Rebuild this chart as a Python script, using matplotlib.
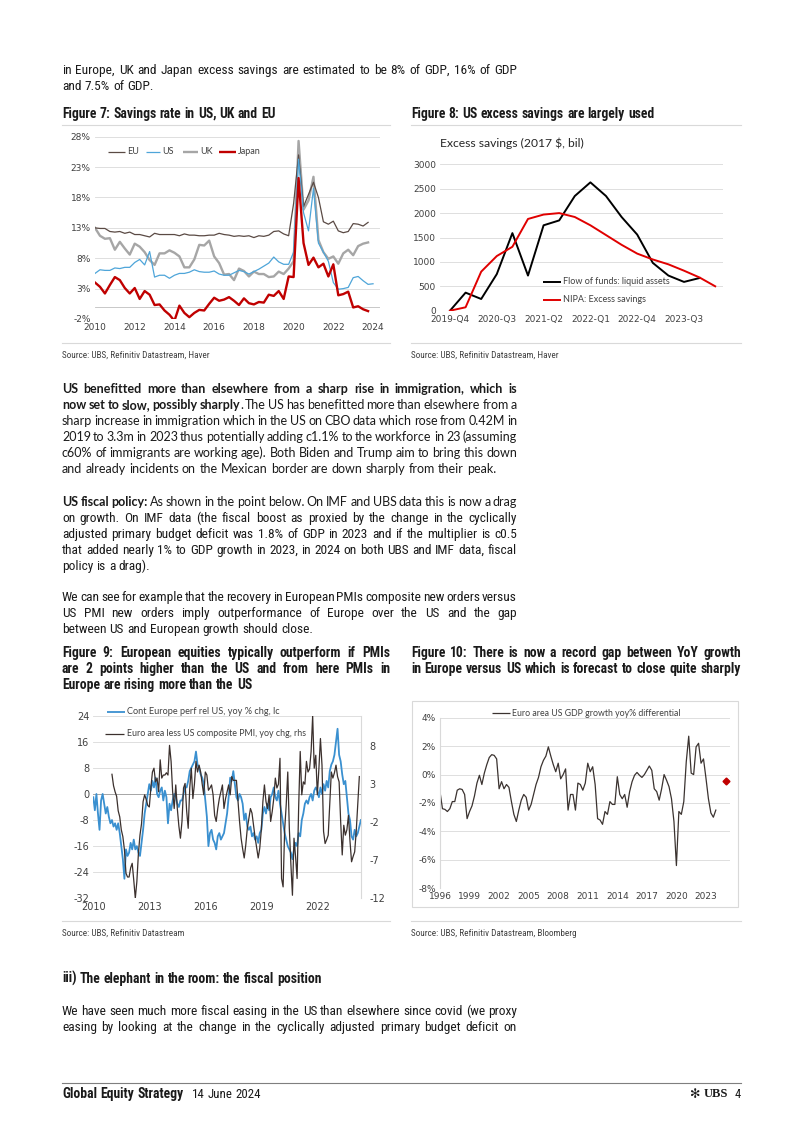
"""Page recreation: UBS Global Equity Strategy p.4 (Figures 7-10)."""
import matplotlib
matplotlib.use("Agg")
import matplotlib.pyplot as plt
import numpy as np
from matplotlib.lines import Line2D
from matplotlib.patches import Rectangle

plt.rcParams["axes.unicode_minus"] = False

W, H = 802, 1134
BODY = ["Lato", "DejaVu Sans"]
COND = ["Liberation Sans Narrow", "Roboto Condensed", "Lato", "DejaVu Sans"]
INK = "#1a1a1a"
TICK = "#404040"
GRID = "#d9d9d9"

# ---------------- Figure 7: savings rate (quarterly, from 2010Q1)
f7_eu = [13.0, 12.9, 12.9, 12.4, 12.3, 12.4, 12.1, 12.3, 11.9, 11.9, 11.7, 11.5,
         12.1, 11.9, 11.9, 11.9, 11.9, 11.7, 12.0, 11.8, 11.8, 11.7, 11.7, 11.8,
         11.8, 12.1, 11.9, 11.8, 11.6, 11.7, 11.6, 11.7, 11.4, 11.7, 11.6, 11.8,
         12.4, 12.5, 12.0, 11.7, 17.0, 25.0, 16.5, 18.5, 20.5, 18.0, 14.0, 13.6,
         14.1, 12.5, 12.2, 12.4, 13.7, 13.6, 13.3, 13.9]
f7_us = [5.5, 6.1, 6.0, 6.0, 6.4, 6.3, 6.5, 6.5, 7.3, 7.8, 6.9, 9.1,
         4.9, 5.2, 5.2, 4.7, 5.2, 5.5, 5.5, 5.7, 6.1, 5.8, 5.7, 5.7,
         5.9, 5.4, 5.2, 5.2, 5.6, 6.0, 5.8, 5.4, 5.8, 6.2, 6.7, 7.2,
         8.2, 7.4, 7.0, 7.0, 9.0, 24.3, 15.5, 12.5, 19.5, 10.5, 9.0, 7.5,
         4.0, 2.9, 3.0, 3.2, 4.8, 5.0, 4.3, 3.7, 3.8]
f7_uk = [13.0, 11.7, 11.2, 11.3, 9.4, 10.7, 9.6, 8.6, 10.4, 9.9, 9.0, 7.7,
         6.9, 8.8, 8.8, 9.3, 8.9, 8.3, 6.5, 6.5, 7.8, 10.2, 10.1, 10.9,
         8.3, 7.2, 5.3, 5.4, 4.4, 6.3, 5.9, 5.0, 5.8, 5.4, 5.4, 4.9,
         5.0, 5.8, 5.4, 6.3, 7.5, 27.3, 16.0, 17.5, 21.4, 11.0, 9.0, 7.9,
         8.3, 7.1, 8.8, 9.4, 8.5, 10.0, 10.4, 10.6]
f7_jp = [4.0, 3.3, 2.2, 3.6, 4.9, 4.4, 3.1, 2.2, 3.1, 1.3, 2.6, 2.0,
         0.3, 0.4, -0.6, -1.3, -2.3, 0.2, -1.0, -1.7, -1.0, -0.5, -0.6, 0.5,
         1.5, 1.0, 1.2, 1.6, 1.0, 0.3, 1.4, 0.6, 0.4, 0.8, 0.7, 2.0,
         1.8, 2.6, 1.3, 5.0, 4.9, 21.2, 10.5, 6.9, 8.1, 6.5, 7.1, 5.0,
         7.0, 1.9, 2.1, 2.5, -0.1, 0.1, -0.4, -0.7]
f7_yticks = [-2, 3, 8, 13, 18, 23, 28]
f7_xticks = [2010, 2012, 2014, 2016, 2018, 2020, 2022, 2024]

# ---------------- Figure 8: excess savings (quarterly, from 2019Q4)
f8_ffunds = [0, 370, 240, 750, 1590, 720, 1750, 1850, 2350, 2630, 2350, 1920,
             1560, 980, 720, 590, 670]
f8_nipa = [0, 70, 800, 1120, 1310, 1880, 1970, 2000, 1920, 1750, 1550, 1350,
           1170, 1050, 950, 820, 680, 500]
f8_xlabels = ["2019-Q4", "2020-Q3", "2021-Q2", "2022-Q1", "2022-Q4", "2023-Q3"]

# ---------------- Figure 9: equities vs PMI (monthly)
f9_perf = [-1, -5, 0, -6, -11, -2, 0, -3, -6, -4, -7, -9,            # 2010
           -8, -10, -9, -11, -9, -12, -16, -20, -26, -17, -19, -18,  # 2011
           -15, -17, -14, -17, -16, -18, -19, -15, -11, -6, -3, 0,   # 2012
           3, 1, 4, 2, 5, 0, -1, 1, 2, -2, 1, -1,                    # 2013
           -9, -3, -5, -2, 0, -1, -3, -4, -2, -2, 0, 2,              # 2014
           2, 4, 7, 8, 9, 10, 13, 9, 8, 6, 5, 3,                     # 2015
           -2, -7, -16, -12, -11, -14, -15, -17, -13, -12, -14, -13, # 2016
           -12, -9, -6, -1, 5, 4, 7, 3, -1, -2, 0, -1,               # 2017
           -3, -8, -6, -10, -11, -10, -13, -12, -14, -13, -15, -12,  # 2018
           -11, -6, -4, -6, -3, -5, -1, 0, 2, -1, -2, 1,             # 2019
           -3, -6, -9, -12, -14, -16, -17, -18, -20, -17, -15, -16,  # 2020
           -12, -13, -8, -6, -3, -2, -3, -1, 0, -2, 1, 2,            # 2021
           1, -1, 2, 0, 3, 1, 4, 2, 7, 9, 10, 12,                    # 2022
           16, 20, 12, 10, 6, 3, 4, -1, -6, -8, -13, -14,            # 2023
           -11, -13, -12, -10, -8]                                   # 2024
f9_pmi = [4.3, 2.8, 2.0, 1.4, -0.5, -1.3, -3.0, -3.9, -5.6, -8.7, -9.2, -9.2,   # 2011
          -8.0, -7.4, -9.6, -12.0, -9.8, -6.1, -3.7, -2.2, 0.7, 1.6, 1.0, 0.2,  # 2012
          0.0, 2.5, 4.6, 5.1, 3.3, 3.8, 2.0, 6.2, 3.8, 4.2, 4.2, 4.5,           # 2013
          4.2, 8.1, 6.0, 2.0, -0.2, 2.9, -0.2, -2.5, -4.1, -1.9, 2.5, 3.1,      # 2014
          -0.5, -2.8, 2.5, 5.1, 1.1, 3.0, 6.0, 4.6, 5.5, 4.6, 3.0, 1.6,         # 2015
          4.6, 4.2, 2.2, 2.5, 2.9, 1.6, -1.1, -1.9, -0.2, 1.1, 2.0, 2.9,        # 2016
          -0.2, 1.1, 2.0, 2.9, 1.6, 4.0, 3.5, 3.5, 3.5, 0.7, -1.9, -4.1,        # 2017
          -5.5, -6.7, -5.0, -2.8, -1.5, -0.2, -0.8, -2.4, -4.0, -5.4, -6.7, -5.4,  # 2018
          -3.0, 0.7, 2.9, 0.7, -0.2, 1.6, -1.9, -0.6, 1.1, 3.8, 2.5, 3.0,       # 2019
          6.4, -9.4, -10.5, -3.0, 0.3, 4.6, -2.8, -7.5, -11.6, -4.1, -6.5, -9.4,  # 2020
          0.0, 7.3, 1.6, 3.3, 3.0, 6.0, 4.6, 5.0, 7.3, 12.0, 5.1, 6.8,          # 2021
          1.6, 5.0, 9.0, 5.5, -3.2, -4.8, -4.3, -3.7, 0.5, 4.6, 3.8, 4.5,       # 2022
          5.5, 4.0, 3.3, -1.9, -6.3, -2.4, -3.7, -3.0, -1.1, -4.5, -7.2, -6.5,  # 2023
          -5.9, -3.2, 0.5, 4.0]                                                 # 2024
f9_lticks = [-32, -24, -16, -8, 0, 8, 16, 24]
f9_rticks = [-12, -7, -2, 3, 8]
f9_xticks = [2010, 2013, 2016, 2019, 2022]

# ---------------- Figure 10: GDP growth differential (quarterly, from 1996Q1)
f10_diff = [-1.2, -2.4, -2.45, -2.6, -2.4, -1.9, -1.9, -1.1, -1.0, -1.05, -1.4, -3.1,
            -2.6, -2.2, -1.5, -0.6, -0.05, -0.7, 0.1, 0.7, 1.2, 1.4, 1.35, 1.1,
            -1.0, -0.5, -1.0, -0.7, -0.9, -1.9, -2.8, -3.3, -2.5, -1.8, -1.4, -1.6,
            -2.5, -2.1, -1.4, -0.7, -0.2, 0.55, 1.0, 1.3, 1.95, 1.3, 0.7, 0.2,
            0.8, -0.3, 0.0, 0.4, -2.5, -1.4, -1.4, -2.5, -0.6, -0.7, -1.1, -0.6,
            0.8, 0.2, 0.55, -0.7, -3.1, -3.2, -3.5, -2.6, -2.8, -1.9, -2.1, -2.1,
            -0.15, -1.4, -1.7, -1.4, -2.3, -1.2, -0.5, -0.05, 0.15, -0.05, -0.2, 0.0,
            0.3, 0.6, 0.3, -1.0, -1.2, -1.8, -1.0, 0.0, -0.4, -0.85, -1.7, -3.3,
            -6.4, -2.6, -2.8, -1.9, 0.9, 2.7, 0.1, 0.0, 1.95, 2.2, 0.8, 1.1,
            -0.25, -1.7, -2.7, -3.0, -2.5]
f10_fc_year = [2025.0]
f10_fc_val = [-0.45]
f10_yticks = [-8, -6, -4, -2, 0, 2, 4]
f10_xticks = list(range(1996, 2024, 3))

fig = plt.figure(figsize=(W / 100, H / 100), dpi=100)
fig.patch.set_facecolor("white")
renderer = fig.canvas.get_renderer()


def px_axes(l, t, r, b):
    return fig.add_axes([l / W, 1 - b / H, (r - l) / W, (b - t) / H])


def ptext(x, y, s, **kw):
    kw.setdefault("va", "center")
    kw.setdefault("color", INK)
    return fig.text(x / W, 1 - y / H, s, **kw)


def hline(x0, x1, y, color=GRID, lw=0.8):
    fig.add_artist(Line2D([x0 / W, x1 / W], [1 - y / H] * 2, color=color, lw=lw,
                          transform=fig.transFigure))


def key(x0, x1, y, **kw):
    fig.add_artist(Line2D([x0 / W, x1 / W], [1 - y / H] * 2,
                          transform=fig.transFigure, solid_capstyle="butt", **kw))


def width_of(s, size, weight, family):
    t = fig.text(0, 0, s, fontsize=size, fontweight=weight, family=family)
    w = t.get_window_extent(renderer).width
    t.remove()
    return w


def split_words(segs):
    words, attach = [], False
    for txt, wt in segs:
        for i, p in enumerate(txt.split(" ")):
            if i > 0:
                attach = False
            if not p:
                continue
            if attach and words:
                words[-1].append((p, wt))
            else:
                words.append([(p, wt)])
            attach = True
    return words


def text_line(segs, x0, y, x1=None, size=9, family=BODY, color=INK):
    """Draw one line at baseline y; justify to x1 if given."""
    if isinstance(segs, str):
        segs = [(segs, "normal")]
    words = split_words(segs)
    widths = [[width_of(s, size, wt, family) for s, wt in w] for w in words]
    space = width_of("a a", size, "normal", family) - width_of("aa", size, "normal", family)
    total = sum(sum(ww) for ww in widths)
    gap = space
    if x1 is not None and len(words) > 1:
        gap = (x1 - x0 - total) / (len(words) - 1)
    x = x0
    for w, ww in zip(words, widths):
        for (s, wt), wd in zip(w, ww):
            fig.text(x / W, 1 - y / H, s, fontsize=size, fontweight=wt, family=family,
                     color=color, va="baseline", ha="left")
            x += wd
        x += gap


def paragraph(lines, x0, x1, y0, lead=16, size=9, family=BODY, justify_last=False):
    for i, segs in enumerate(lines):
        last = i == len(lines) - 1 and not justify_last
        text_line(segs, x0, y0 + i * lead, None if last else x1, size=size, family=family)


def style_axes(ax, size=6.5):
    for s in ax.spines.values():
        s.set_visible(False)
    ax.tick_params(length=0, labelsize=size, colors=TICK, pad=3)
    ax.set_facecolor("none")


L0, L1, R0, R1, TXT1 = 62, 390, 411, 741, 517
CSIZE = 9.6

# ---------------- running text, top
paragraph(["in Europe, UK and Japan excess savings are estimated to be 8% of GDP, 16% of GDP",
           "and 7.5% of GDP."], L0, TXT1, 74, size=CSIZE, family=COND)
text_line([("Figure 7: Savings rate in US, UK and EU", "bold")], L0, 118, size=9.8, family=COND)
text_line([("Figure 8: US excess savings are largely used", "bold")], R0, 118, size=9.8, family=COND)
hline(L0, L1, 125)
hline(R0, R1, 125)

# ---------------- Figure 7
ax7 = px_axes(95, 136.7, 380, 319)
style_axes(ax7)
qx7 = 2010 + np.arange(len(f7_us)) * 0.25
ax7.set_xlim(2010, 2024.35)
ax7.set_ylim(-2, 28)
ax7.set_yticks(f7_yticks)
ax7.set_yticklabels([f"{v}%" for v in f7_yticks])
ax7.set_xticks(f7_xticks)
ax7.grid(axis="y", color=GRID, lw=0.6)
ax7.axhline(0, color="#bfbfbf", lw=0.6)
ax7.plot(qx7[:len(f7_uk)], f7_uk, color="#a6a6a6", lw=1.7)
ax7.plot(qx7[:len(f7_eu)], f7_eu, color="#5a4a44", lw=0.9)
ax7.plot(qx7, f7_us, color="#4ea5d9", lw=0.9)
ax7.plot(qx7[:len(f7_jp)], f7_jp, color="#c00000", lw=1.7)
for x0, x1, lab, col, lw in [(108, 125, "EU", "#5a4a44", 0.9), (146, 160, "US", "#4ea5d9", 0.9),
                             (183, 198, "UK", "#a6a6a6", 1.7), (219, 236, "Japan", "#c00000", 1.7)]:
    key(x0, x1, 152, color=col, lw=lw)
    ptext(x1 + 2, 152, lab, fontsize=6.5, color=TICK, family=BODY)

# ---------------- Figure 8
ax8 = px_axes(440, 164.3, 723, 310.7)
style_axes(ax8)
ax8.set_xlim(-0.64, 17.5)
ax8.set_ylim(0, 3000)
ax8.set_yticks(range(0, 3001, 500))
ax8.set_xticks(range(0, 16, 3))
ax8.set_xticklabels(f8_xlabels)
ax8.grid(axis="y", color=GRID, lw=0.6)
ax8.plot(range(len(f8_ffunds)), f8_ffunds, color="black", lw=1.4)
ax8.plot(range(len(f8_nipa)), f8_nipa, color="#e00000", lw=1.4)
ptext(440, 143, "Excess savings (2017 $, bil)", fontsize=8.7, family=BODY, color="#262626")
key(543, 561, 282, color="black", lw=1.4)
ptext(563, 282, "Flow of funds: liquid assets", fontsize=6.5, family=BODY, color=TICK)
key(543, 561, 300, color="#e00000", lw=1.4)
ptext(563, 300, "NIPA: Excess savings", fontsize=6.5, family=BODY, color=TICK)

# sources, top
hline(L0, L1, 343)
hline(R0, R1, 343)
ptext(L0, 355, "Source: UBS, Refinitiv Datastream, Haver", fontsize=6.6, family=COND, color=TICK)
ptext(R0, 355, "Source: UBS, Refinitiv Datastream, Haver", fontsize=6.6, family=COND, color=TICK)

# ---------------- running text, middle
paragraph([
    [("US benefitted more than elsewhere from a sharp rise in immigration, which is", "bold")],
    [("now set to slow, possibly sharply", "bold"), (". The US has benefitted more than elsewhere from a", "normal")],
    "sharp increase in immigration which in the US on CBO data which rose from 0.42M in",
    "2019 to 3.3m in 2023 thus potentially adding c1.1% to the workforce in 23 (assuming",
    "c60% of immigrants are working age). Both Biden and Trump aim to bring this down",
    "and already incidents on the Mexican border are down sharply from their peak.",
], L0, TXT1, 393)
text_line([("US fiscal policy:", "bold"), (" As shown in the point below. On IMF and UBS data this is now a drag", "normal")],
          L0, 506, TXT1)
paragraph([
    "on growth. On IMF data (the fiscal boost as proxied by the change in the cyclically",
    "adjusted primary budget deficit was 1.8% of GDP in 2023 and if the multiplier is c0.5",
    "that added nearly 1% to GDP growth in 2023, in 2024 on both UBS and IMF data, fiscal",
    "policy is a drag).",
], L0, TXT1, 522, size=CSIZE, family=COND)
paragraph([
    "We can see for example that the recovery in European PMIs composite new orders versus",
    "US PMI new orders imply outperformance of Europe over the US and the gap",
    "between US and European growth should close.",
], L0, TXT1, 601, size=CSIZE, family=COND)
paragraph([
    [("Figure 9: European equities typically outperform if PMIs", "bold")],
    [("are 2 points higher than the US and from here PMIs in", "bold")],
    [("Europe are rising more than the US", "bold")],
], L0, L1, 657, size=9.8, family=COND)
paragraph([
    [("Figure 10: There is now a record gap between YoY growth", "bold")],
    [("in Europe versus US which is forecast to close quite sharply", "bold")],
], R0, R1, 657, size=9.8, family=COND, justify_last=True)

# ---------------- Figure 9
ax9 = px_axes(93.3, 715.7, 361.2, 898.3)
style_axes(ax9, 7)
mx_perf = 2010 + np.arange(len(f9_perf)) / 12
mx_pmi = 2011 + np.arange(len(f9_pmi)) / 12
ax9.set_xlim(2010, 2024.35)
ax9.set_ylim(-32, 24)
ax9.set_yticks(f9_lticks)
ax9.set_xticks(f9_xticks)
ax9.grid(axis="y", color=GRID, lw=0.6)
ax9.axhline(0, color="#a6a6a6", lw=0.7)
ax9.plot(mx_perf, f9_perf, color="#3a90d0", lw=1.3)
ax9r = ax9.twinx()
style_axes(ax9r, 7)
ax9r.spines["right"].set_visible(True)
ax9r.spines["right"].set_color(GRID)
ax9r.set_ylim(-12, 12)
ax9r.set_yticks(f9_rticks)
ax9r.tick_params(axis="y", pad=6)
ax9r.plot(mx_pmi, f9_pmi, color="#3b302d", lw=0.9)
key(107, 125, 712, color="#3a90d0", lw=1.3)
ptext(127, 712, "Cont Europe perf rel US, yoy % chg, lc", fontsize=6.6, family=BODY, color=TICK)
key(105, 124, 734, color="#3b302d", lw=0.9)
ptext(127, 734, "Euro area less US composite PMI, yoy chg, rhs", fontsize=6.4, family=BODY, color=TICK)

# ---------------- Figure 10
fig.add_artist(Rectangle((412 / W, 1 - 907 / H), (738 - 412) / W, (907 - 701) / H,
                         transform=fig.transFigure, fill=False, edgecolor=GRID, lw=0.8))
ax10 = px_axes(440, 717.7, 729.6, 888.3)
style_axes(ax10)
ax10.spines["left"].set_visible(True)
ax10.spines["left"].set_color(GRID)
qx10 = 1996 + np.arange(len(f10_diff)) * 0.25
ax10.set_xlim(1996, 2025.4)
ax10.set_ylim(-8, 4)
ax10.set_yticks(f10_yticks)
ax10.set_yticklabels([f"{v}%" for v in f10_yticks])
ax10.set_xticks(f10_xticks)
ax10.grid(axis="y", color=GRID, lw=0.6)
ax10.plot(qx10, f10_diff, color="#3b3330", lw=0.9)
ax10.plot(f10_fc_year, f10_fc_val, ls="none", marker="D", ms=3.5, color="#c00000", clip_on=False)
key(492, 510, 713, color="#3b3330", lw=0.9)
ptext(512, 713, "Euro area US GDP growth yoy% differential", fontsize=6.3, family=BODY, color=TICK)

# sources, bottom
hline(L0, L1, 921)
hline(R0, R1, 921)
ptext(L0, 933, "Source: UBS, Refinitiv Datastream", fontsize=6.6, family=COND, color=TICK)
ptext(R0, 933, "Source: UBS, Refinitiv Datastream, Bloomberg", fontsize=6.6, family=COND, color=TICK)

# ---------------- running text, bottom
text_line([("iii) The elephant in the room: the fiscal position", "bold")], L0, 983, size=9.8, family=COND)
paragraph(["We have seen much more fiscal easing in the US than elsewhere since covid (we proxy",
           "easing by looking at the change in the cyclically adjusted primary budget deficit on"],
          L0, TXT1, 1015, size=CSIZE, family=COND, justify_last=True)

# ---------------- footer
hline(L0, R1, 1083, color="#7f7f7f", lw=0.8)
text_line([("Global Equity Strategy", "bold")], L0, 1098, size=9.8, family=COND)
text_line("14 June 2024", 192, 1098, size=9.3, family=COND)
ptext(R1, 1094, "4", fontsize=9, family=COND, ha="right")
ptext(728, 1094, "UBS", fontsize=9, family=["Liberation Serif", "DejaVu Serif"],
      fontweight="bold", ha="right")
ptext(700, 1094, "\u273b", fontsize=9, family=["DejaVu Sans"], ha="right")

fig.savefig("out.png", dpi=100, facecolor="white")
plt.close(fig)
